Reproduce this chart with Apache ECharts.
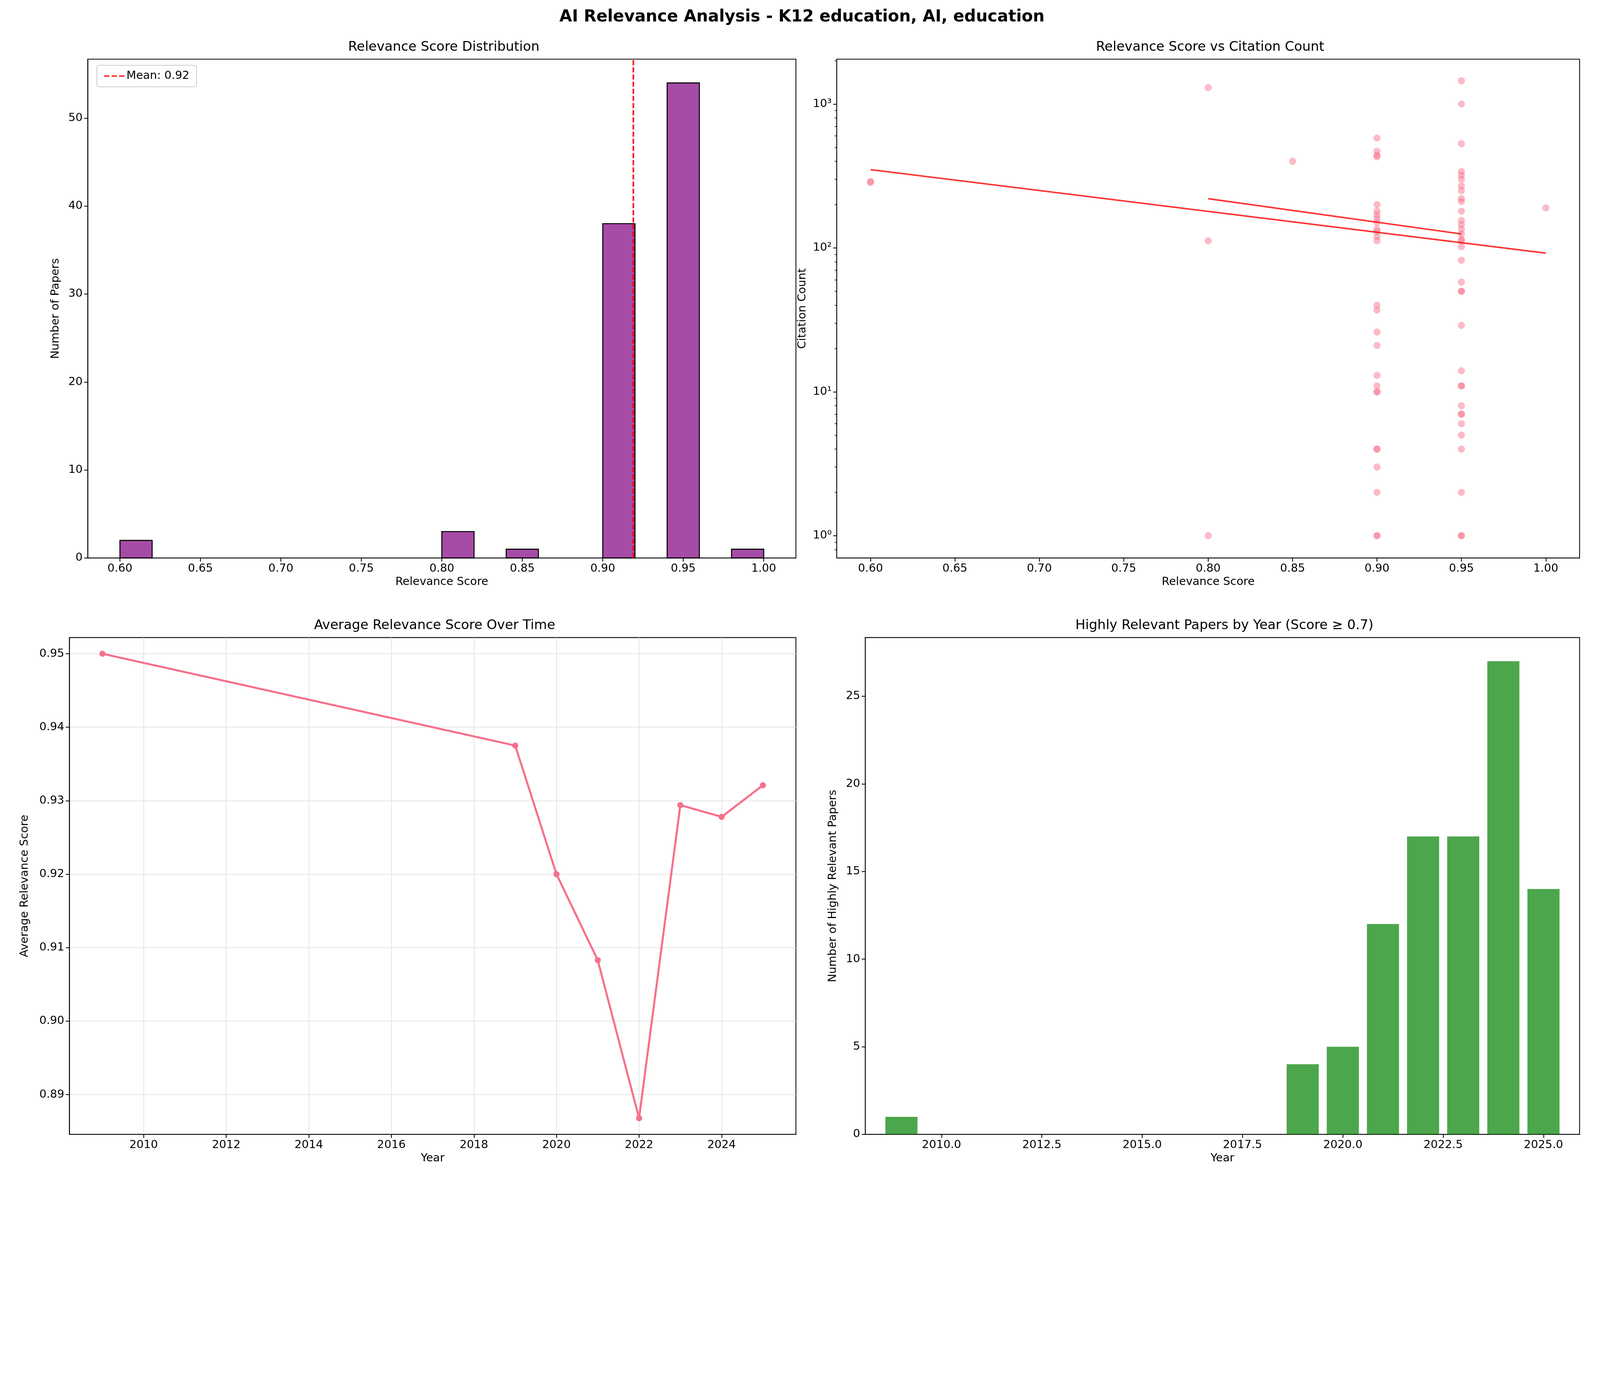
<!DOCTYPE html>
<html><head><meta charset="utf-8">
<script src="https://cdn.jsdelivr.net/npm/echarts@6/dist/echarts.min.js"></script>
<style>html,body{margin:0;background:#fff;overflow:hidden}#c{width:100vw;height:100vh}</style>
</head><body><div id="c"></div>
<script>
// histogram: bin edges and counts (20 bins 0.60-1.00)
const binStarts = [0.60, 0.80, 0.84, 0.90, 0.94, 0.98];
const binCounts = [2, 3, 1, 38, 54, 1];
const meanScore = 0.919;
// scatter: relevance vs citations
const scatterPoints = [
  [0.6,290],[0.6,285],
  [0.8,1300],[0.8,112],[0.8,1],
  [0.85,400],
  [0.9,580],[0.9,470],[0.9,440],[0.9,430],[0.9,200],[0.9,180],[0.9,170],[0.9,160],[0.9,150],[0.9,135],[0.9,130],[0.9,120],[0.9,112],
  [0.9,40],[0.9,37],[0.9,26],[0.9,21],[0.9,13],[0.9,11],[0.9,10],[0.9,10],[0.9,4],[0.9,4],[0.9,3],[0.9,2],[0.9,1],[0.9,1],
  [0.95,1450],[0.95,1000],[0.95,530],[0.95,340],[0.95,320],[0.95,300],[0.95,270],[0.95,250],[0.95,220],[0.95,210],[0.95,180],
  [0.95,155],[0.95,145],[0.95,135],[0.95,125],[0.95,115],[0.95,112],[0.95,102],[0.95,82],[0.95,58],[0.95,50],[0.95,50],
  [0.95,29],[0.95,14],[0.95,11],[0.95,11],[0.95,8],[0.95,7],[0.95,7],[0.95,6],[0.95,5],[0.95,4],[0.95,2],[0.95,1],[0.95,1],
  [1.0,190]
];
const trendPoints = [[0.6,350],[1.0,92],['-','-'],[0.8,220],[0.95,125]];
// average relevance by year
const lineYears = [2009, 2019, 2020, 2021, 2022, 2023, 2024, 2025];
const lineAvg = [0.95, 0.9375, 0.92, 0.9083, 0.8868, 0.9294, 0.9278, 0.9321];
// highly relevant papers by year
const barYears = [2009, 2019, 2020, 2021, 2022, 2023, 2024, 2025];
const barCounts = [1, 4, 5, 12, 17, 17, 27, 14];

// layout designed for a 1568 wide view, scaled to the real one
const k = window.innerWidth / 1568;
const S = v => v * k;
const F = 'DejaVu Sans';
const lab = {fontFamily: F, fontSize: S(11), color: '#000'};
const nameSt = {fontFamily: F, fontSize: S(11), color: '#000'};
const axLine = {show: true, lineStyle: {color: '#000', width: S(0.8)}};
const tick = {show: true, length: S(3.5), lineStyle: {color: '#000', width: S(0.8)}};
const sup = {'0':'⁰','1':'¹','2':'²','3':'³'};

function rectSeries(xi, yi, starts, counts, w, color, border) {
  return {
    type: 'custom', xAxisIndex: xi, yAxisIndex: yi,
    data: starts.map((s, i) => [s, counts[i]]),
    renderItem: function (params, api) {
      const p0 = api.coord([api.value(0), 0]);
      const p1 = api.coord([api.value(0) + w, api.value(1)]);
      return {type: 'rect', shape: {x: p0[0], y: p1[1], width: p1[0] - p0[0], height: p0[1] - p1[1]},
        style: {fill: color, stroke: border, lineWidth: border ? S(1) : 0}};
    }
  };
}

const grids = [
  {left: 86, top: 58, width: 694, height: 489},
  {left: 820, top: 58, width: 728, height: 489},
  {left: 68, top: 625, width: 712, height: 487},
  {left: 848, top: 625, width: 700, height: 487}
];
function xa(gi, min, max, vals, name, fmt, split) {
  return {type: 'value', gridIndex: gi, min: min, max: max, name: name, nameLocation: 'middle', nameGap: S(18),
    nameTextStyle: nameSt, axisLine: axLine,
    axisTick: Object.assign({customValues: vals}, tick),
    axisLabel: Object.assign({customValues: vals, formatter: fmt, margin: S(5)}, lab),
    splitLine: split ? {show: true, lineStyle: {color: '#e5e5e5', width: S(0.8)}} : {show: false}};
}
function ya(gi, type, min, max, vals, name, gap, fmt, split) {
  return {type: type, gridIndex: gi, min: min, max: max, name: name, nameLocation: 'middle', nameGap: S(gap),
    nameTextStyle: nameSt, axisLine: axLine,
    axisTick: Object.assign({customValues: vals}, tick),
    axisLabel: Object.assign({customValues: vals, formatter: fmt, margin: S(5)}, lab),
    splitLine: split ? {show: true, lineStyle: {color: '#e5e5e5', width: S(0.8)}, customValues: vals} : {show: false}};
}
const tt = (text, x, y, size, bold) => ({text: text, left: S(x), textAlign: 'center', top: S(y),
  textStyle: {fontFamily: F, fontSize: S(size), fontWeight: bold ? 'bold' : 'normal', color: '#000'}});
const logAxis = ya(1, 'log', 0.7, 2050, [1, 10, 100, 1000], 'Citation Count', 28,
  v => '10' + sup[String(Math.round(Math.log10(v)))]);
logAxis.logBase = 10;
logAxis.minorTick = {show: true, splitNumber: 9, length: S(2), lineStyle: {color: '#000', width: S(0.6)}};

const opt = {
  animation: false, backgroundColor: '#fff',
  title: [
    tt('AI Relevance Analysis - K12 education, AI, education', 784, 7, 16, true),
    tt('Relevance Score Distribution', 433, 38, 13),
    tt('Relevance Score vs Citation Count', 1184, 38, 13),
    tt('Average Relevance Score Over Time', 424, 605, 13),
    tt('Highly Relevant Papers by Year (Score ≥ 0.7)', 1198, 605, 13)
  ],
  grid: grids.map(g => ({show: true, borderColor: '#000', borderWidth: S(0.8),
    left: S(g.left), top: S(g.top), width: S(g.width), height: S(g.height)})),
  legend: {left: S(95), top: S(64), padding: [S(5), S(7)], borderColor: '#ccc', borderWidth: S(0.8), borderRadius: S(2),
    itemWidth: S(20), itemHeight: S(7), textStyle: {fontFamily: F, fontSize: S(11), color: '#000'},
    data: [{name: 'Mean: 0.92', icon: 'path://M0,9h14v3h-14zM20,9h14v3h-14zM40,9h14v3h-14z', itemStyle: {color: '#ff0000'}}]},
  xAxis: [
    xa(0, 0.58, 1.02, [0.6,0.65,0.7,0.75,0.8,0.85,0.9,0.95,1.0], 'Relevance Score', v => v.toFixed(2)),
    xa(1, 0.58, 1.02, [0.6,0.65,0.7,0.75,0.8,0.85,0.9,0.95,1.0], 'Relevance Score', v => v.toFixed(2)),
    xa(2, 2008.2, 2025.8, [2010,2012,2014,2016,2018,2020,2022,2024], 'Year', v => String(v), true),
    xa(3, 2008.1, 2025.9, [2010,2012.5,2015,2017.5,2020,2022.5,2025], 'Year', v => v.toFixed(1))
  ],
  yAxis: [
    ya(0, 'value', 0, 56.7, [0,10,20,30,40,50], 'Number of Papers', 26, v => String(v)),
    logAxis,
    ya(2, 'value', 0.8846, 0.9522, [0.89,0.9,0.91,0.92,0.93,0.94,0.95], 'Average Relevance Score', 38, v => v.toFixed(2), true),
    ya(3, 'value', 0, 28.35, [0,5,10,15,20,25], 'Number of Highly Relevant Papers', 26, v => String(v))
  ],
  series: [
    rectSeries(0, 0, binStarts, binCounts, 0.02, 'rgba(128,0,128,0.7)', '#000'),
    {type: 'line', name: 'Mean: 0.92', xAxisIndex: 0, yAxisIndex: 0, data: [[meanScore, 0], [meanScore, 56.7]],
      symbol: 'none', lineStyle: {color: '#ff0000', width: S(1.5), type: [S(5), S(2)]}, itemStyle: {color: '#ff0000'}},
    {type: 'scatter', xAxisIndex: 1, yAxisIndex: 1, data: scatterPoints, symbolSize: S(7),
      itemStyle: {color: 'rgba(246,112,136,0.6)'}},
    {type: 'line', xAxisIndex: 1, yAxisIndex: 1, data: trendPoints, symbol: 'none', connectNulls: false,
      lineStyle: {color: 'rgba(255,0,0,0.8)', width: S(1.5)}},
    {type: 'line', xAxisIndex: 2, yAxisIndex: 2, data: lineYears.map((y, i) => [y, lineAvg[i]]),
      symbol: 'circle', symbolSize: S(6), lineStyle: {color: '#f6708a', width: S(2)}, itemStyle: {color: '#f6708a'}},
    rectSeries(3, 3, barYears.map(y => y - 0.4), barCounts, 0.8, 'rgba(0,128,0,0.7)', null)
  ]
};
echarts.init(document.getElementById('c')).setOption(opt);
</script></body></html>
